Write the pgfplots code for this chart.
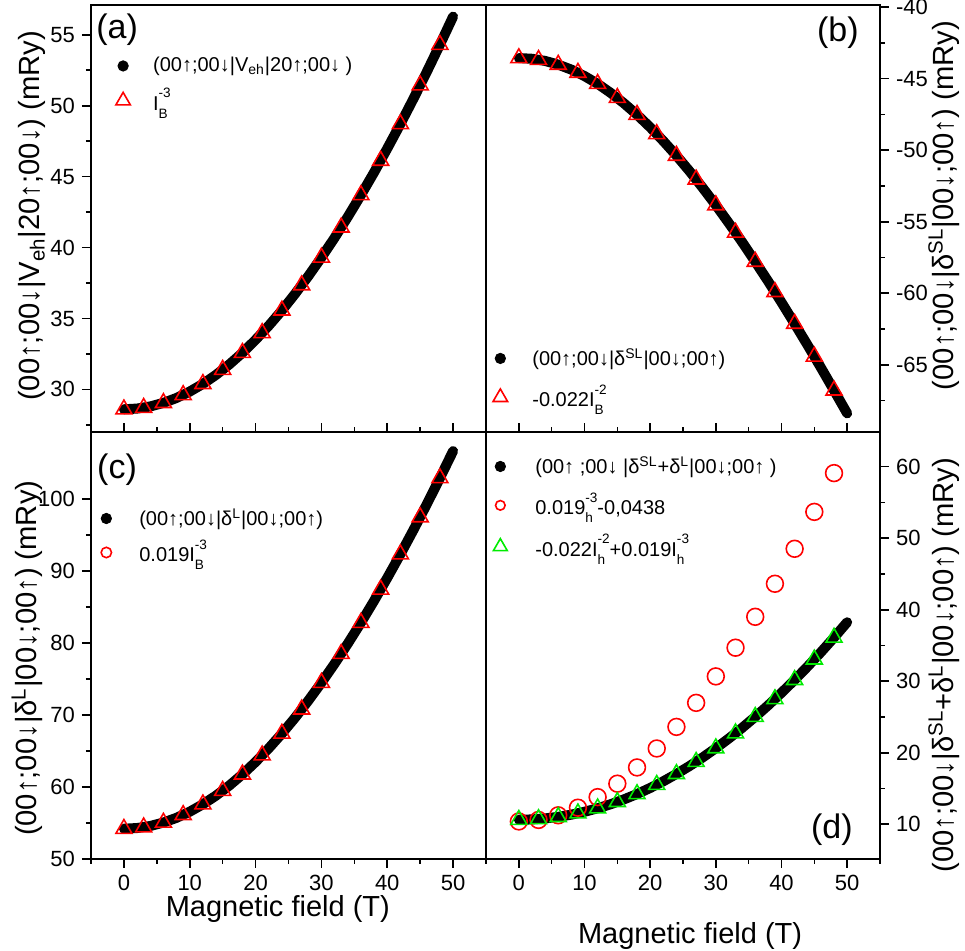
\documentclass[border=0pt]{standalone}
\usepackage{fontspec}
\setmainfont{Liberation Sans}
\usepackage{pgfplots}
\pgfplotsset{compat=1.18}

% stacked superscript/subscript pair, e.g. I_B^{-3}
\newcommand\supsub[2]{%
  \leavevmode
  \setbox0=\hbox{\raisebox{0.62em}{\fontsize{6.8}{8}\selectfont #1}}%
  \setbox2=\hbox{\raisebox{-0.40em}{\fontsize{6.8}{8}\selectfont #2}}%
  \ifdim\wd0>\wd2 \rlap{\box2}\box0 \else\rlap{\box0}\box2 \fi}

\definecolor{mkred}{RGB}{255,0,0}
\definecolor{mkgreen}{RGB}{0,235,0}

\pgfplotsset{
  panel/.style={
    scale only axis, width=197.5pt, height=213.5pt, anchor=south west,
    xmin=-5, xmax=55, xtick={-10,0,10,20,30,40,50,60},
    minor x tick num=1, minor y tick num=1,
    axis line style={line width=0.8pt},
    tick style={line width=0.8pt, black},
    major tick length=4.5pt, minor tick length=2.5pt,
    tick align=outside, xtick pos=bottom,
    ticklabel style={font=\fontsize{11}{13}\selectfont},
    /pgf/number format/assume math mode=true,
    legend cell align=left,
    legend style={draw=none, fill=none, inner sep=0pt, row sep=2.8pt,
      anchor=north west, font=\fontsize{10}{12}\selectfont},
  },
  toppanel/.style={xticklabels={},
    major x tick style={yshift=4.5pt}, minor x tick style={yshift=2.5pt}},
  leftpanel/.style={ytick pos=left},
  rightpanel/.style={ytick pos=right, yticklabel pos=right},
  ylab/.style 2 args={every axis y label/.style={at={(axis description cs:#1,#2)},
      rotate=90, anchor=center, font=\fontsize{14.6}{18}\selectfont}},
  xlab/.style 2 args={every axis x label/.style={at={(axis description cs:#1,#2)},
      anchor=center, font=\fontsize{14.5}{17}\selectfont}},
  mklegend/.style={legend image code/.code={%
      \path[draw=none, fill=none] (-5pt,0pt) -- (#1,0pt);
      \draw[##1] plot coordinates {(0pt,0pt)};}},
  curve/.style={black, line width=5pt, line cap=round, line join=round, forget plot},
  tri/.style={only marks, mark=triangle, mark size=4.6pt, mkred,
    mark options={line width=0.8pt}, forget plot},
}

\begin{document}
\begin{tikzpicture}[x=1pt,y=1pt]
\path[use as bounding box] (0,0) rectangle (482.5,475.5);

% ---------------- (a) ----------------
\begin{axis}[panel, toppanel, leftpanel, ylab={-0.149}{0.506}, at={(45.5pt,259.5pt)},
  ymin=27, ymax=57.1, ytick={25,30,35,40,45,50,55},
  ylabel={(00↑;00↓|V\textsubscript{eh}|20↑;00↓) (mRy)},
  legend style={at={(axis description cs:0.055,0.888)}}]
\addplot[curve] coordinates {
 (0,28.60) (2,28.65) (4,28.80) (6,29.05) (8,29.40) (10,29.85) (12,30.39)
 (14,31.03) (16,31.76) (18,32.58) (20,33.50) (22,34.49) (24,35.57) (26,36.74)
 (28,37.98) (30,39.30) (32,40.69) (34,42.16) (36,43.70) (38,45.30) (40,46.98)
 (42,48.71) (44,50.51) (46,52.38) (48,54.30) (50,56.28)};
\addplot[tri] coordinates {
 (0,28.60) (3,28.71) (6,29.05) (9,29.61) (12,30.39) (15,31.39) (18,32.58)
 (21,33.98) (24,35.57) (27,37.35) (30,39.30) (33,41.42) (36,43.70) (39,46.13)
 (42,48.71) (45,51.44) (48,54.30)};
\addlegendimage{mklegend=13pt, only marks, mark=*, mark size=2.6pt, black}
\addlegendentry{(00↑;00↓|V\textsubscript{eh}|20↑;00↓ )}
\addlegendimage{mklegend=13pt, only marks, mark=triangle, mark size=4.2pt, mkred, mark options={line width=0.8pt}}
\addlegendentry{I\supsub{-3}{B}}
\node[font=\fontsize{17}{20}\selectfont] at (axis description cs:0.066,0.941) {(a)};
\end{axis}

% ---------------- (b) ----------------
\begin{axis}[panel, toppanel, rightpanel, ylab={1.162}{0.53}, at={(243pt,259.5pt)}, width=197pt,
  ymin=-69.7, ymax=-39.85, ytick={-70,-65,-60,-55,-50,-45,-40},
  ylabel={(00↑;00↓|δ\textsuperscript{SL}|00↓;00↑) (mRy)},
  legend style={at={(axis description cs:0.010,0.206)}, row sep=4.2pt}]
\addplot[curve] coordinates {
 (0,-43.56) (2,-43.61) (4,-43.76) (6,-44.02) (8,-44.37) (10,-44.82) (12,-45.36)
 (14,-46.00) (16,-46.72) (18,-47.52) (20,-48.40) (22,-49.36) (24,-50.38) (26,-51.47)
 (28,-52.63) (30,-53.84) (32,-55.11) (34,-56.42) (36,-57.79) (38,-59.19) (40,-60.64)
 (42,-62.13) (44,-63.65) (46,-65.20) (48,-66.79) (50,-68.40)};
\addplot[tri] coordinates {
 (0,-43.56) (3,-43.68) (6,-44.02) (9,-44.58) (12,-45.36) (15,-46.34) (18,-47.52)
 (21,-48.87) (24,-50.38) (27,-52.04) (30,-53.84) (33,-55.76) (36,-57.79) (39,-59.91)
 (42,-62.13) (45,-64.42) (48,-66.79)};
\addlegendimage{mklegend=14pt, only marks, mark=*, mark size=2.6pt, black}
\addlegendentry{(00↑;00↓|δ\textsuperscript{SL}|00↓;00↑)}
\addlegendimage{mklegend=14pt, only marks, mark=triangle, mark size=4.2pt, mkred, mark options={line width=0.8pt}}
\addlegendentry{-0.022I\supsub{-2}{B}}
\node[font=\fontsize{17}{20}\selectfont] at (axis description cs:0.893,0.934) {(b)};
\end{axis}

% ---------------- (c) ----------------
\begin{axis}[panel, leftpanel, ylab={-0.162}{0.47}, xlab={0.473}{-0.116}, at={(45.5pt,46pt)},
  ymin=50, ymax=109.3, ytick={50,60,70,80,90,100},
  xlabel={Magnetic field (T)},
  ylabel={(00↑;00↓|δ\textsuperscript{L}|00↓;00↑) (mRy)},
  legend style={at={(axis description cs:0.0125,0.831)}, row sep=1.8pt}]
\addplot[curve] coordinates {
 (0,54.20) (2,54.30) (4,54.58) (6,55.06) (8,55.72) (10,56.57) (12,57.60)
 (14,58.81) (16,60.19) (18,61.75) (20,63.48) (22,65.37) (24,67.42) (26,69.62)
 (28,71.98) (30,74.48) (32,77.12) (34,79.90) (36,82.81) (38,85.86) (40,89.03)
 (42,92.32) (44,95.73) (46,99.26) (48,102.90) (50,106.65)};
\addplot[tri] coordinates {
 (0,54.20) (3,54.41) (6,55.06) (9,56.12) (12,57.60) (15,59.48) (18,61.75)
 (21,64.40) (24,67.42) (27,70.78) (30,74.48) (33,78.49) (36,82.81) (39,87.43)
 (42,92.32) (45,97.48) (48,102.90)};
\addlegendimage{mklegend=14.5pt, only marks, mark=*, mark size=2.6pt, black}
\addlegendentry{(00↑;00↓|δ\textsuperscript{L}|00↓;00↑)}
\addlegendimage{mklegend=14.5pt, only marks, mark=o, mark size=2.6pt, mkred, mark options={line width=0.8pt}}
\addlegendentry{0.019I\supsub{-3}{B}}
\node[font=\fontsize{17}{20}\selectfont] at (axis description cs:0.066,0.911) {(c)};
\end{axis}

% ---------------- (d) ----------------
\begin{axis}[panel, rightpanel, ylab={1.162}{0.454}, xlab={0.518}{-0.181}, at={(243pt,46pt)}, width=197pt,
  ymin=5.15, ymax=64.85, ytick={0,10,20,30,40,50,60,70},
  xlabel={Magnetic field (T)},
  ylabel={(00↑;00↓|δ\textsuperscript{SL}+δ\textsuperscript{L}|00↓;00↑) (mRy)},
  legend style={at={(axis description cs:0.010,0.953)}, row sep=4.2pt}]
\addplot[curve] coordinates {
 (0,10.64) (2,10.68) (4,10.82) (6,11.04) (8,11.35) (10,11.75) (12,12.24)
 (14,12.81) (16,13.48) (18,14.23) (20,15.08) (22,16.01) (24,17.04) (26,18.15)
 (28,19.35) (30,20.64) (32,22.01) (34,23.48) (36,25.03) (38,26.66) (40,28.39)
 (42,30.19) (44,32.08) (46,34.06) (48,36.11) (50,38.25)};
\addplot[only marks, mark=o, mark size=4.2pt, mkred, mark options={line width=0.8pt}, forget plot] coordinates {
 (0,10.40) (3,10.61) (6,11.26) (9,12.32) (12,13.80) (15,15.68) (18,17.95)
 (21,20.60) (24,23.62) (27,26.98) (30,30.68) (33,34.69) (36,39.01) (39,43.63)
 (42,48.52) (45,53.68) (48,59.10)};
\addplot[only marks, mark=triangle, mark size=4.6pt, mkgreen, mark options={line width=0.8pt}, forget plot] coordinates {
 (0,10.64) (3,10.74) (6,11.04) (9,11.54) (12,12.24) (15,13.13) (18,14.23)
 (21,15.53) (24,17.04) (27,18.74) (30,20.64) (33,22.73) (36,25.03) (39,27.51)
 (42,30.19) (45,33.06) (48,36.11)};
\addlegendimage{mklegend=15.5pt, only marks, mark=*, mark size=2.6pt, black}
\addlegendentry{(00↑ ;00↓ |δ\textsuperscript{SL}+δ\textsuperscript{L}|00↓;00↑ )}
\addlegendimage{mklegend=15.5pt, only marks, mark=o, mark size=2.4pt, mkred, mark options={line width=0.8pt}}
\addlegendentry{0.019\supsub{-3}{h}-0,0438}
\addlegendimage{mklegend=15.5pt, only marks, mark=triangle, mark size=4.0pt, mkgreen, mark options={line width=0.8pt}}
\addlegendentry{-0.022I\supsub{-2}{h}+0.019I\supsub{-3}{h}}
\node[font=\fontsize{17}{20}\selectfont] at (axis description cs:0.878,0.068) {(d)};
\end{axis}
\end{tikzpicture}
\end{document}
